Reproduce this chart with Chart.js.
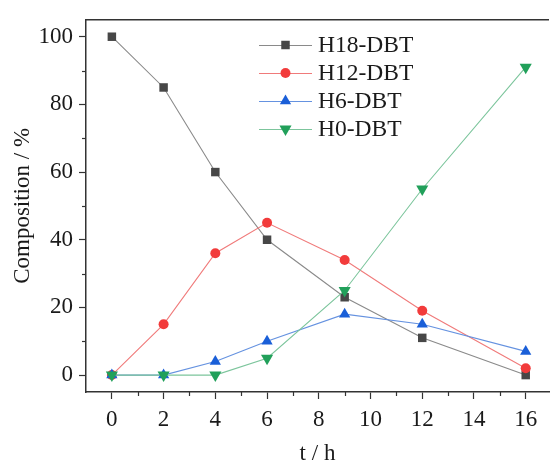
<!DOCTYPE html>
<html lang="en">
<head>
  <meta charset="UTF-8">
  <title>Composition vs time</title>
  <style>
    body { margin: 0; background: #fff; }
    .chart-container { width: 556px; height: 465px; position: relative; }
  </style>
</head>
<body>
  <div class="chart-container">
    <canvas id="compChart"></canvas>
  </div>

  <script src="https://cdn.jsdelivr.net/npm/chart.js"></script>
  <script>
    // data
    const times = [0, 2, 4, 6, 9, 12, 16];
    const h18 = [100, 85, 60, 40, 23, 11, 0];
    const h12 = [0, 15, 36, 45, 34, 19, 2];
    const h6 = [0, 0, 4, 10, 18, 15, 7];
    const h0 = [0, 0, 0, 5, 25, 55, 91];

    const seriesNames = ['H18-DBT', 'H12-DBT', 'H6-DBT', 'H0-DBT'];
    const xTicks = [0, 2, 4, 6, 8, 10, 12, 14, 16];
    const xMinor = [1, 3, 5, 7, 9, 11, 13, 15];
    const yTicks = [0, 20, 40, 60, 80, 100];
    const yMinor = [10, 30, 50, 70, 90];

    const FONT = 'Liberation Serif';
    const axisColor = '#333';
    const textColor = '#1a1a1a';

    const styles = [
      { line: '#8a8a8a', point: '#474747', shape: 'rect', radius: 6, rot: 0 },
      { line: '#f07a7a', point: '#f23b3b', shape: 'circle', radius: 5, rot: 0 },
      { line: '#6592e0', point: '#1a5fd8', shape: 'triangle', radius: 6.5, rot: 0 },
      { line: '#7cc59c', point: '#21a05a', shape: 'triangle', radius: 7, rot: 180 }
    ];

    function toPoints(values) {
      return times.map((t, i) => ({ x: t, y: values[i] }));
    }

    const allValues = [h18, h12, h6, h0];
    const datasets = allValues.map((vals, i) => ({
      label: seriesNames[i],
      data: toPoints(vals),
      borderColor: styles[i].line,
      borderWidth: 1.1,
      backgroundColor: styles[i].point,
      pointBackgroundColor: styles[i].point,
      pointBorderColor: styles[i].point,
      pointBorderWidth: 0,
      pointStyle: styles[i].shape,
      pointRotation: styles[i].rot,
      pointRadius: styles[i].radius,
      pointHoverRadius: styles[i].radius,
      tension: 0,
      order: 3 - i,
      clip: false
    }));

    // minor ticks + top frame line + legend
    const extras = {
      id: 'extras',
      afterDraw(chart) {
        const ctx = chart.ctx;
        const area = chart.chartArea;
        const xs = chart.scales.x;
        const ys = chart.scales.y;
        ctx.save();
        ctx.strokeStyle = axisColor;
        ctx.lineWidth = 1.5;
        ctx.beginPath();
        ctx.moveTo(area.left, area.top);
        ctx.lineTo(area.right, area.top);
        ctx.stroke();
        ctx.lineWidth = 1.2;
        xMinor.forEach(v => {
          const px = Math.round(xs.getPixelForValue(v)) + 0.5;
          ctx.beginPath();
          ctx.moveTo(px, area.bottom);
          ctx.lineTo(px, area.bottom + 4);
          ctx.stroke();
        });
        yMinor.forEach(v => {
          const py = Math.round(ys.getPixelForValue(v)) + 0.5;
          ctx.beginPath();
          ctx.moveTo(area.left, py);
          ctx.lineTo(area.left - 4, py);
          ctx.stroke();
        });

        // legend
        const lx = 259, lw = 53, tx = 318;
        let ly = 45;
        ctx.font = '23.5px "' + FONT + '"';
        ctx.textBaseline = 'middle';
        ctx.textAlign = 'left';
        seriesNames.forEach((name, i) => {
          const s = styles[i];
          ctx.strokeStyle = s.line;
          ctx.lineWidth = 1;
          ctx.beginPath();
          ctx.moveTo(lx, ly + 0.5);
          ctx.lineTo(lx + lw, ly + 0.5);
          ctx.stroke();
          ctx.fillStyle = s.point;
          ctx.strokeStyle = s.point;
          ctx.lineWidth = 0;
          Chart.helpers.drawPoint(ctx, { pointStyle: s.shape, radius: s.radius, rotation: s.rot, borderWidth: 0 }, lx + lw / 2, ly);
          ctx.fillStyle = textColor;
          ctx.fillText(name, tx, ly + 1);
          ly += 28;
        });
        ctx.restore();
      }
    };

    new Chart(document.getElementById('compChart'), {
      type: 'line',
      data: { datasets: datasets },
      plugins: [extras],
      options: {
        responsive: true,
        maintainAspectRatio: false,
        animation: false,
        layout: { padding: { top: 12, right: 0, left: 0, bottom: 0 } },
        plugins: {
          legend: { display: false },
          tooltip: { enabled: false }
        },
        scales: {
          x: {
            type: 'linear',
            min: -1,
            max: 16.9,
            afterBuildTicks: scale => { scale.ticks = xTicks.map(v => ({ value: v })); },
            afterFit: scale => { scale.height = 73; },
            border: { display: true, color: axisColor, width: 1.5 },
            grid: { drawOnChartArea: false, drawTicks: true, tickLength: 7, tickColor: axisColor, tickWidth: 1.2 },
            ticks: { color: textColor, font: { family: FONT, size: 23 }, padding: 7, maxRotation: 0 },
            title: { display: true, text: 't / h', color: textColor, font: { family: FONT, size: 23, lineHeight: 1 }, padding: { top: 0, bottom: 0 } }
          },
          y: {
            min: -5,
            max: 105,
            afterBuildTicks: scale => { scale.ticks = yTicks.map(v => ({ value: v })); },
            afterFit: scale => { scale.width = 86; },
            border: { display: true, color: axisColor, width: 1.5 },
            grid: { drawOnChartArea: false, drawTicks: true, tickLength: 7, tickColor: axisColor, tickWidth: 1.2 },
            ticks: { color: textColor, font: { family: FONT, size: 23 }, padding: 6 },
            title: { display: true, text: 'Composition / %', color: textColor, font: { family: FONT, size: 23, lineHeight: 1 }, padding: { top: 11, bottom: 0 } }
          }
        }
      }
    });
  </script>
</body>
</html>
